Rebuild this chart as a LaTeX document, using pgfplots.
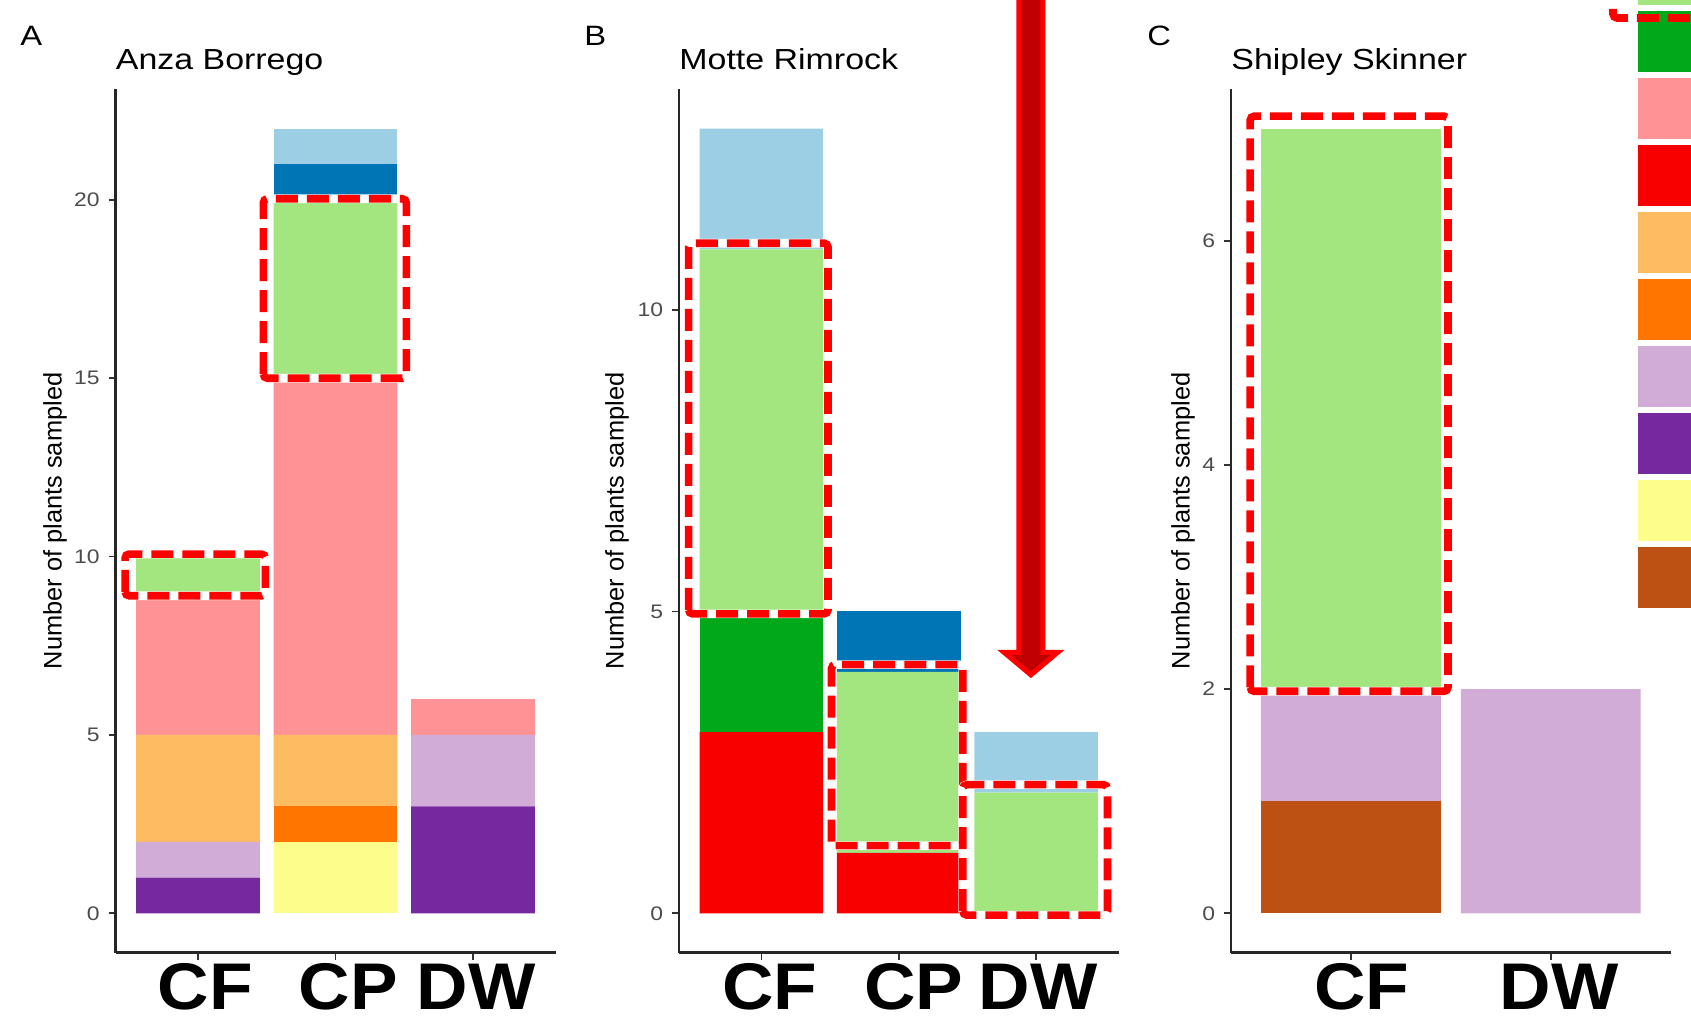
\documentclass[border=0pt]{standalone}
\usepackage{fontspec}
\setmainfont{Liberation Sans}
\usepackage{pgfplots}
\pgfplotsset{compat=1.18}
\definecolor{lblue}{HTML}{9DCFE4}
\definecolor{dblue}{HTML}{0075B5}
\definecolor{lgreen}{HTML}{A3E680}
\definecolor{dgreen}{HTML}{00A81A}
\definecolor{pink}{HTML}{FF9295}
\definecolor{red1}{HTML}{F80000}
\definecolor{lorange}{HTML}{FEBC62}
\definecolor{orange1}{HTML}{FF7500}
\definecolor{lpurple}{HTML}{D0ACD6}
\definecolor{purple1}{HTML}{76289E}
\definecolor{yellow1}{HTML}{FDFD8C}
\definecolor{brown1}{HTML}{BD5114}
\definecolor{arrowred}{HTML}{C00000}
\definecolor{boxred}{HTML}{FF0000}
\tikzset{
  halo/.style={draw=white, line width=4.3pt, rounded corners=2pt},
  dashbox/.style={draw=boxred, line width=3.8pt, dash pattern=on 11pt off 4.5pt, rounded corners=2pt},
}
\newcommand{\xl}[2]{\hspace*{#1}\scalebox{1.08}[1]{#2}}
\newcommand{\sy}[1]{\scalebox{1.17}[1]{#1}}
\newcommand{\hbx}[4]{%
  \path[halo] (#1pt,#2pt) rectangle (#3pt,#4pt);
  \path[dashbox] (#1pt,#2pt) rectangle (#3pt,#4pt);}
\pgfplotsset{
  panel/.style={
    scale only axis, height=431.6pt, anchor=south west,
    axis lines=left, axis line style={-, line width=1.1pt, black!85},
    tick align=outside, major tick length=3.5pt,
    tick style={line width=0.9pt, black!80},
    ybar stacked, bar width=0.9, xmin=0.4, clip=false,
    xticklabel style={font=\fontsize{33}{36}\selectfont\bfseries, text=black, anchor=north, inner sep=0pt, yshift=-2pt},
    yticklabel style={font=\fontsize{9.8}{11}\selectfont, text=black!70, anchor=east, inner sep=0pt, xshift=-4.2pt},
    title style={at={(0,1)}, anchor=base west, inner sep=0pt, yshift=3.8pt, font=\fontsize{14.5}{16}\selectfont},
  },
  ylab/.style={ylabel={Number of plants sampled},
    every axis y label/.style={at={(axis description cs:#1,0.5)}, rotate=90, anchor=center, font=\fontsize{12.7}{14}\selectfont, text=black}},
}
\begin{document}
\begin{tikzpicture}
\path[use as bounding box] (0,0) rectangle (845.5pt,511.5pt);
\clip (0,0) rectangle (845.5pt,511.5pt);

% Panel A
\begin{axis}[panel, ylab=-0.1375, at={(57.75pt,35.25pt)}, width=220pt,
  xmax=3.6, ymin=-1.1, ymax=23.1,
  xtick={1,2,3}, xticklabels={\xl{7.5pt}{CF},\xl{13pt}{CP},\xl{3pt}{DW}},
  ytick={0,5,10,15,20}, yticklabels={\sy{0},\sy{5},\sy{10},\sy{15},\sy{20}},
  title={\sy{Anza Borrego}}]
\addplot[fill=yellow1, draw=none] coordinates {(1,0) (2,2) (3,0)};
\addplot[fill=purple1, draw=none] coordinates {(1,1) (2,0) (3,3)};
\addplot[fill=lpurple, draw=none] coordinates {(1,1) (2,0) (3,2)};
\addplot[fill=orange1, draw=none] coordinates {(1,0) (2,1) (3,0)};
\addplot[fill=lorange, draw=none] coordinates {(1,3) (2,2) (3,0)};
\addplot[fill=pink, draw=none] coordinates {(1,4) (2,10) (3,1)};
\addplot[fill=lgreen, draw=none] coordinates {(1,1) (2,5) (3,0)};
\addplot[fill=dblue, draw=none] coordinates {(1,0) (2,1) (3,0)};
\addplot[fill=lblue, draw=none] coordinates {(1,0) (2,1) (3,0)};
\end{axis}

% Panel B
\begin{axis}[panel, ylab=-0.141, at={(339.5pt,35.25pt)}, width=219.75pt,
  xmax=3.6, ymin=-0.65, ymax=13.65,
  xtick={1,2,3}, xticklabels={\xl{8.6pt}{CF},\xl{15pt}{CP},\xl{2pt}{DW}},
  ytick={0,5,10}, yticklabels={\sy{0},\sy{5},\sy{10}},
  title={\sy{Motte Rimrock}}]
\addplot[fill=red1, draw=none] coordinates {(1,3) (2,1) (3,0)};
\addplot[fill=dgreen, draw=none] coordinates {(1,2) (2,0) (3,0)};
\addplot[fill=lgreen, draw=none] coordinates {(1,6) (2,3) (3,2)};
\addplot[fill=dblue, draw=none] coordinates {(1,0) (2,1) (3,0)};
\addplot[fill=lblue, draw=none] coordinates {(1,2) (2,0) (3,1)};
\draw[boxred, line width=2.5pt, fill=arrowred, line join=miter]
  (axis cs:2.875,16) -- (axis cs:2.875,4.32) -- (axis cs:2.768,4.32) -- (axis cs:2.962,3.95)
  -- (axis cs:3.156,4.32) -- (axis cs:3.049,4.32) -- (axis cs:3.049,16) -- cycle;
\end{axis}

% Panel C
\begin{axis}[panel, ylab=-0.109, at={(615.5pt,35.25pt)}, width=219.75pt,
  xmax=2.6, ymin=-0.35, ymax=7.35,
  xtick={1,2}, xticklabels={\xl{10.8pt}{CF},\xl{8.6pt}{DW}},
  ytick={0,2,4,6}, yticklabels={\sy{0},\sy{2},\sy{4},\sy{6}},
  title={\sy{Shipley Skinner}}]
\addplot[fill=brown1, draw=none] coordinates {(1,1) (2,0)};
\addplot[fill=lpurple, draw=none] coordinates {(1,1) (2,2)};
\addplot[fill=lgreen, draw=none] coordinates {(1,5) (2,0)};
\end{axis}

% highlight boxes (annotations)
\hbx{62.56}{213.6}{132.69}{234.47}
\hbx{131.66}{322.39}{203.16}{412.1}
\hbx{344.31}{204.57}{414.01}{389.89}
\hbx{415.73}{88.67}{481.38}{179.22}
\hbx{481.38}{53.96}{553.76}{119.16}
\hbx{625.09}{165.85}{723.98}{453.4}

% panel letters
\node[anchor=base west, inner sep=0pt, font=\fontsize{14}{16}\selectfont] at (10pt,488.5pt) {\sy{A}};
\node[anchor=base west, inner sep=0pt, font=\fontsize{14}{16}\selectfont] at (292pt,488.5pt) {\sy{B}};
\node[anchor=base west, inner sep=0pt, font=\fontsize{14}{16}\selectfont] at (573.5pt,488.5pt) {\sy{C}};

% cropped legend keys
\fill[lblue]   (819pt,606.5pt) rectangle (870pt,576pt);
\fill[dblue]   (819pt,573pt) rectangle (870pt,542.5pt);
\fill[lgreen]  (819pt,539.5pt) rectangle (870pt,509.15pt);
\fill[dgreen]  (819pt,506pt) rectangle (870pt,475.5pt);
\fill[pink]    (819pt,472.5pt) rectangle (870pt,442pt);
\fill[red1]    (819pt,439pt) rectangle (870pt,408.5pt);
\fill[lorange] (819pt,405.5pt) rectangle (870pt,375pt);
\fill[orange1] (819pt,372pt) rectangle (870pt,341.5pt);
\fill[lpurple] (819pt,338.5pt) rectangle (870pt,308pt);
\fill[purple1] (819pt,305pt) rectangle (870pt,274.5pt);
\fill[yellow1] (819pt,271.5pt) rectangle (870pt,241pt);
\fill[brown1]  (819pt,238pt) rectangle (870pt,207.5pt);
\path[dashbox] (806.5pt,600pt) -- (806.5pt,502.5pt) -- (900pt,502.5pt);
\end{tikzpicture}
\end{document}
